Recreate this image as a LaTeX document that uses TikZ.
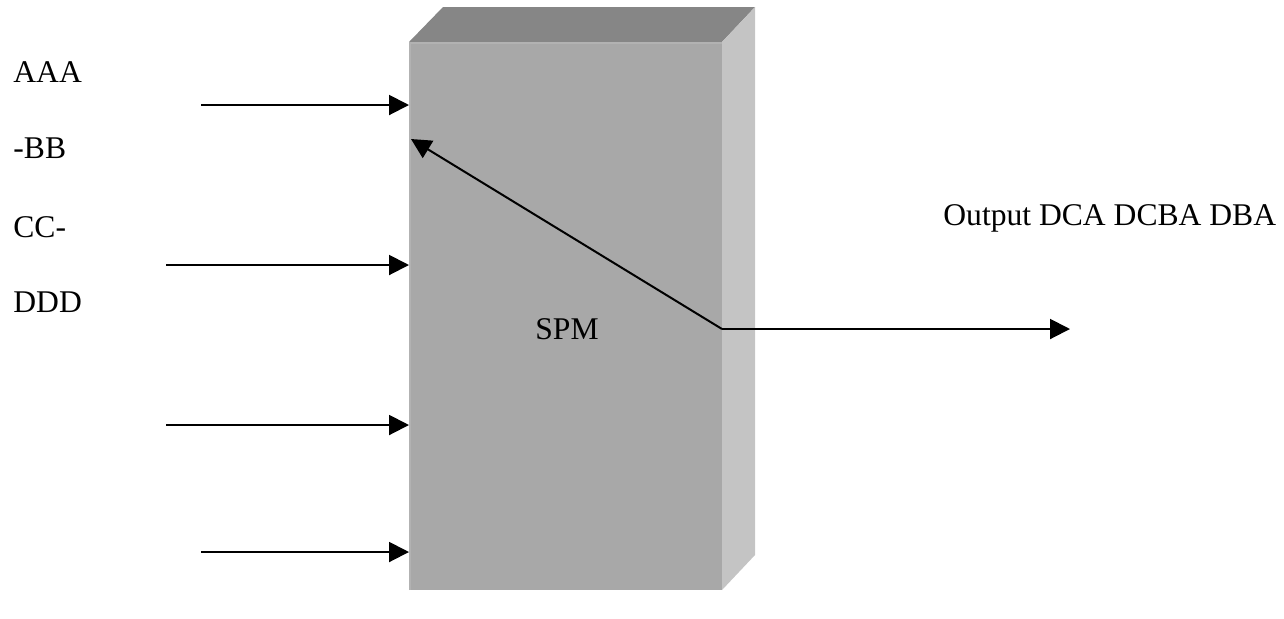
\documentclass[tikz,border=0pt]{standalone}
\usepackage{fontspec}
\setmainfont{Liberation Serif}
\usetikzlibrary{arrows.meta}
\definecolor{frontc}{RGB}{168,168,168}
\definecolor{topc}{RGB}{134,134,134}
\definecolor{sidec}{RGB}{196,196,196}
\definecolor{edgec}{RGB}{178,178,178}
\begin{document}
\begin{tikzpicture}[x=0.5pt,y=-0.5pt,
  arr/.style={line width=1pt,-{Triangle[length=10pt,width=10pt]}},
  lbl/.style={inner sep=0pt,anchor=base west,font=\fontsize{15.8pt}{18pt}\selectfont},
  face/.style={draw=none}]
\useasboundingbox (0,0) rectangle (1284,618);
% box faces
\fill[topc] (409,42) -- (443,7) -- (755,7) -- (722,42) -- cycle;
\fill[sidec] (722,42) -- (755,7) -- (755,555) -- (722,590) -- cycle;
\node[face,fill=frontc,minimum width=156.5pt,minimum height=274pt,inner sep=0pt,anchor=north west] (spm) at (409,42) {};
\draw[edgec,line width=1pt] (409.5,590) -- (409.5,42.5) -- (722,42.5);
\node[lbl] (spmtxt) at (535,339) {SPM};
% labels
\node[lbl] (a) at (13,82) {AAA};
\node[lbl] (b) at (13,158) {-BB};
\node[lbl] (c) at (13,237) {CC-};
\node[lbl] (d) at (13,312) {DDD};
\node[lbl] (out) at (943,225) {Output DCA DCBA DBA};
% inputs
\coordinate (i1) at (201,105);
\coordinate (i2) at (166,265);
\coordinate (i3) at (166,425);
\coordinate (i4) at (201,552);
\draw[arr] (i1) -- (spm.west |- i1);
\draw[arr] (i2) -- (spm.west |- i2);
\draw[arr] (i3) -- (spm.west |- i3);
\draw[arr] (i4) -- (spm.west |- i4);
% output
\coordinate (j) at (722,329);
\coordinate (fb) at (411,139);
\coordinate (o) at (1070,329);
\draw[arr] (j) -- (fb);
\draw[arr] (j) -- (o);
\end{tikzpicture}
\end{document}
